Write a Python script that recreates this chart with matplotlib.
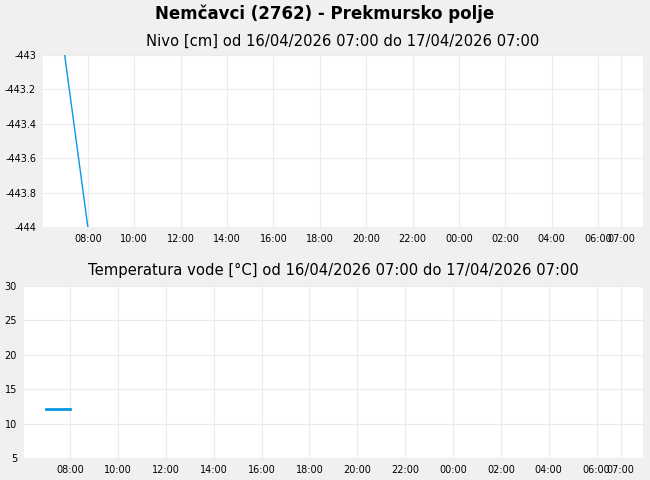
import numpy as np
import matplotlib.pyplot as plt
import matplotlib.dates as mdates
from datetime import datetime, timedelta

# data
nivo_time = [datetime(2026, 4, 16, 7, 0), datetime(2026, 4, 16, 8, 0)]
nivo_cm = [-443.0, -444.0]
temp_time = [datetime(2026, 4, 16, 7, 0), datetime(2026, 4, 16, 8, 0)]
temp_c = [12.1, 12.1]

tick_times = [datetime(2026, 4, 16, h) for h in range(8, 24, 2)] + \
             [datetime(2026, 4, 17, h) for h in range(0, 7, 2)] + [datetime(2026, 4, 17, 7)]

start = datetime(2026, 4, 16, 7, 0)
end = datetime(2026, 4, 17, 7, 0)
pad = timedelta(minutes=56)

bg = '#f0f0f0'
col = '#0a96e6'

fig = plt.figure(figsize=(6.5, 4.8), dpi=100, facecolor=bg)
fig.text(0.5, 0.971, 'Nemčavci (2762) - Prekmursko polje', ha='center', va='center',
         fontsize=12, fontweight='bold')

ax1 = fig.add_axes([0.0662, 0.527, 0.9228, 0.3583])
ax2 = fig.add_axes([0.0369, 0.0458, 0.9521, 0.3583])

ax1.plot(nivo_time, nivo_cm, color=col, lw=1)
ax1.set_ylim(-444, -443)
ax1.set_yticks(np.round(np.arange(-444, -442.99, 0.2), 1))
ax1.set_yticklabels(['-444', '-443.8', '-443.6', '-443.4', '-443.2', '-443'])
ax1.set_title('Nivo [cm] od 16/04/2026 07:00 do 17/04/2026 07:00', fontsize=10.6, pad=7)

ax2.plot(temp_time, temp_c, color=col, lw=2)
ax2.set_ylim(5, 30)
ax2.set_yticks([5, 10, 15, 20, 25, 30])
ax2.set_title('Temperatura vode [°C] od 16/04/2026 07:00 do 17/04/2026 07:00', fontsize=10.6, pad=8)

for ax in (ax1, ax2):
    ax.set_facecolor('white')
    ax.set_xlim(start - pad, end + pad)
    ax.set_xticks(tick_times)
    ax.xaxis.set_major_formatter(mdates.DateFormatter('%H:%M'))
    ax.grid(True, color='#ebebeb', lw=0.8)
    ax.set_axisbelow(True)
    for s in ax.spines.values():
        s.set_visible(False)
    ax.tick_params(length=0, labelsize=7, pad=5)

fig.savefig('out.png', dpi=100, facecolor=bg)
